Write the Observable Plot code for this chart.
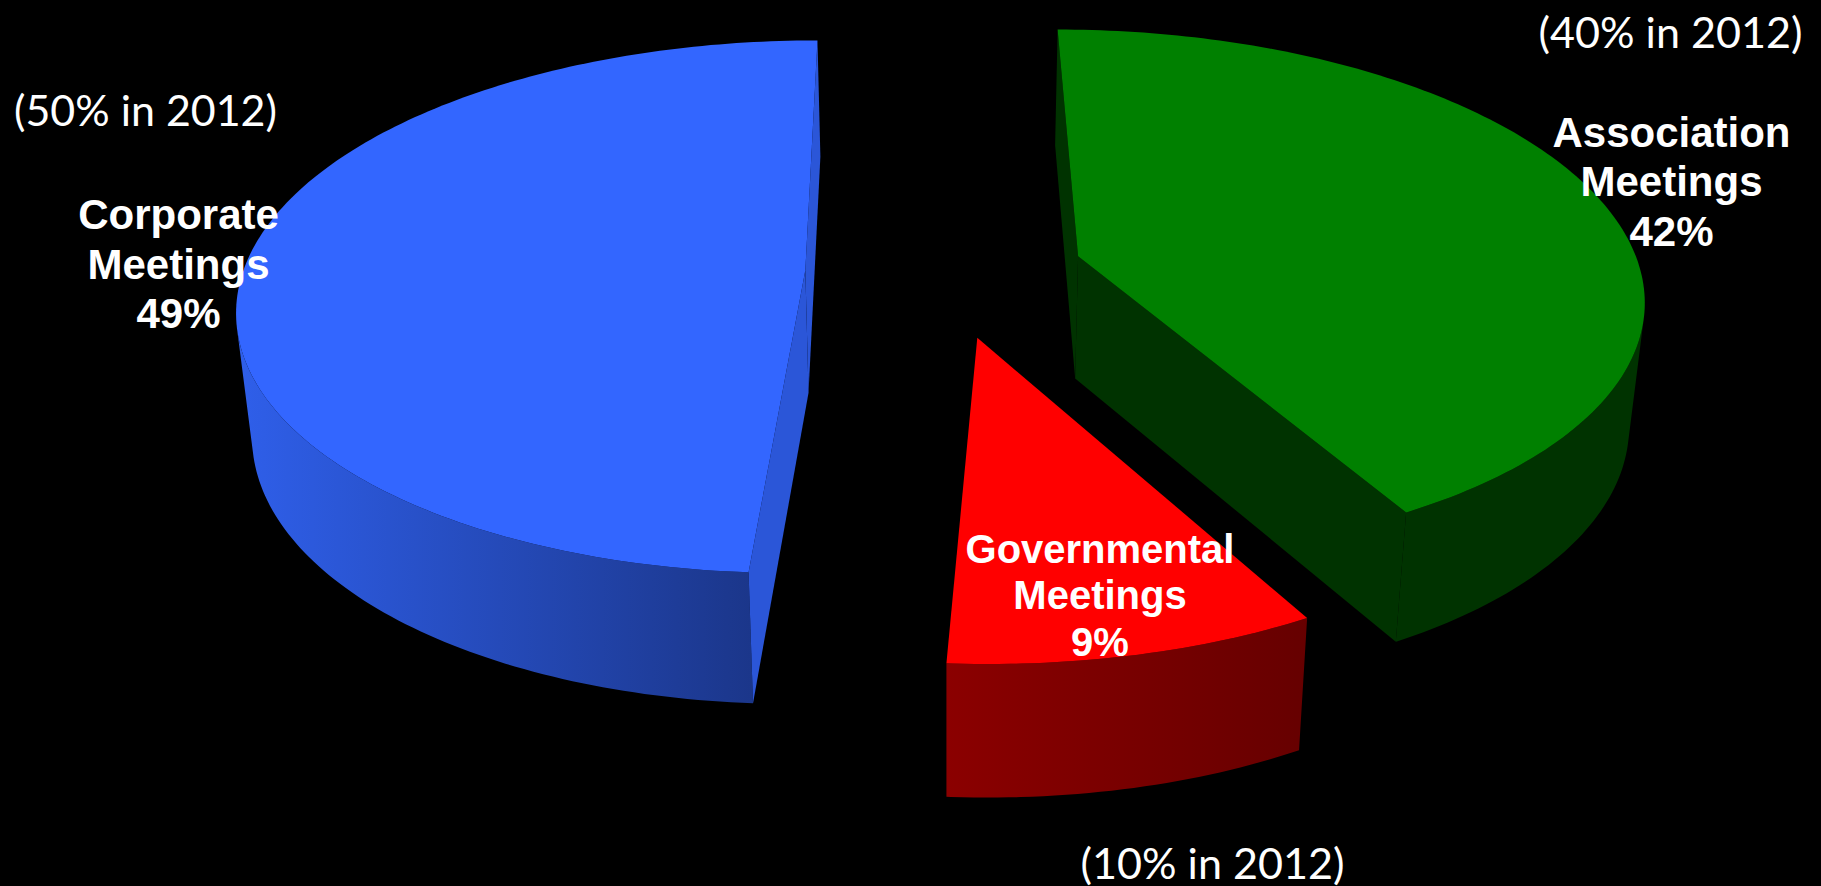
<!DOCTYPE html>
<html>
<head>
<meta charset="utf-8">
<script src="https://cdn.jsdelivr.net/npm/d3@7"></script>
<script src="https://cdn.jsdelivr.net/npm/@observablehq/plot@0.6"></script>
<style>
html,body{margin:0;padding:0;background:#000;overflow:hidden}
svg{display:block}
</style>
</head>
<body>
<div id="chart"></div>
<script>
// Chart data
const categories = ["Association Meetings", "Governmental Meetings", "Corporate Meetings"];
const shares2013 = [42, 9, 49];
const shares2012 = [40, 10, 50];

// Slice colours: top face, inner (radial) wall, outer wall left and right
const topColors = ["#008000", "#ff0000", "#3366ff"];
const innerColors = ["#003300", "#660000", "#2b56d8"];
const rimLeftColors = ["#003300", "#8b0000", "#2f5fea"];
const rimRightColors = ["#003300", "#660000", "#1b368a"];

// Text layout (pixels from the top-left of the frame)
const labelRows = [
  {t: "Corporate", px: 178, py: 228, bold: true, size: 42},
  {t: "Meetings", px: 178, py: 278, bold: true, size: 42},
  {t: "49%", px: 178, py: 327, bold: true, size: 42},
  {t: "Association", px: 1671, py: 146, bold: true, size: 42},
  {t: "Meetings", px: 1671, py: 195, bold: true, size: 42},
  {t: "42%", px: 1671, py: 245, bold: true, size: 42},
  {t: "Governmental", px: 1099.5, py: 562, bold: true, size: 40},
  {t: "Meetings", px: 1099.5, py: 608, bold: true, size: 40},
  {t: "9%", px: 1099.5, py: 655, bold: true, size: 40},
  {t: `(${shares2012[2]}% in 2012)`, px: 145, py: 125, fit: 263, size: 42},
  {t: `(${shares2012[0]}% in 2012)`, px: 1670, py: 47, fit: 264, size: 42},
  {t: `(${shares2012[1]}% in 2012)`, px: 1212, py: 878, fit: 264, size: 42}
];

// 3-D view of the exploded pie
const view = {vx: 780, vy: -1417, H: 1650, k: 0.1365, a: 484, cx: 0.0679, cy: 0.005, explode: 0.2478,
              dropX: 815, bottomScale: 0.9775, depth0: 100, depthSlope: 0.028, depthRef: 36};
const rad = d => d * Math.PI / 180;

function projectPlane(X, Y) {
  const w = 1 - view.k * Y;
  return [view.vx + view.a * X / w, view.vy + view.H / w];
}
function dropToBottom([sx, sy]) {
  return [view.dropX + (sx - view.dropX) * view.bottomScale,
          sy + view.depth0 + (sy - view.depthRef) * view.depthSlope];
}
function signedArea(pts) {
  let s = 0;
  pts.forEach((p, i) => { const q = pts[(i + 1) % pts.length]; s += p[0] * q[1] - q[0] * p[1]; });
  return s;
}

const total = d3.sum(shares2013);
const innerRows = [];
const rimRows = [];
const topRows = [];
const rimGradients = [];
let seg = 0;
let start = 0;
shares2013.forEach((v, i) => {
  const sweep = v / total * 360;
  const mid = start + sweep / 2;
  const ox = view.cx + view.explode * Math.sin(rad(mid));
  const oy = view.cy - view.explode * Math.cos(rad(mid));
  const rim = d3.range(0, Math.ceil(sweep) + 1).map(s => {
    const th = rad(start + Math.min(s, sweep));
    return projectPlane(ox + Math.sin(th), oy - Math.cos(th));
  });
  const apex = projectPlane(ox, oy);

  const visible = (p, q) => signedArea([p, q, dropToBottom(q), dropToBottom(p)]) < 0;
  const addInner = (p, q) => {
    if (visible(p, q)) {
      seg++;
      [p, q, dropToBottom(q), dropToBottom(p)].forEach(c =>
        innerRows.push({seg, x: c[0], y: c[1], color: innerColors[i]}));
    }
  };
  addInner(apex, rim[0]);
  addInner(rim[rim.length - 1], apex);

  // the part of the outer wall that faces the viewer, as one gradient-filled shape
  const chain = [];
  for (let j = 0; j < rim.length - 1; j++) {
    if (visible(rim[j], rim[j + 1])) {
      if (!chain.length) chain.push(rim[j]);
      chain.push(rim[j + 1]);
    }
  }
  if (chain.length) {
    const id = `rim-${i}`;
    rimGradients.push({id, left: rimLeftColors[i], right: rimRightColors[i]});
    [...chain, ...chain.slice().reverse().map(dropToBottom)].forEach(c =>
      rimRows.push({slice: categories[i], x: c[0], y: c[1], color: `url(#${id})`}));
  }
  [apex, ...rim].forEach(c => topRows.push({slice: categories[i], x: c[0], y: c[1], color: topColors[i]}));
  start += sweep;
});

function gradientDefs() {
  const ns = "http://www.w3.org/2000/svg";
  const defs = document.createElementNS(ns, "defs");
  rimGradients.forEach(g => {
    const lg = document.createElementNS(ns, "linearGradient");
    lg.setAttribute("id", g.id);
    [[0, g.left], [1, g.right]].forEach(([o, c]) => {
      const s = document.createElementNS(ns, "stop");
      s.setAttribute("offset", o);
      s.setAttribute("stop-color", c);
      lg.append(s);
    });
    defs.append(lg);
  });
  return defs;
}

const textMarks = labelRows.map((r, i) => Plot.text([r.t], {
  text: d => d,
  frameAnchor: "top-left",
  dx: r.px,
  dy: r.py,
  textAnchor: "middle",
  lineAnchor: "bottom",
  fill: "#fff",
  fontFamily: r.bold ? "Liberation Sans, Arial, sans-serif" : "Lato, Carlito, sans-serif",
  fontWeight: r.bold ? 700 : 400,
  fontSize: r.size,
  className: "lbl" + i
}));

const chart = Plot.plot({
  width: 1821,
  height: 886,
  margin: 0,
  style: {background: "#000"},
  x: {domain: [0, 1568], range: [0, 1821], axis: null},
  y: {domain: [0, 763], range: [0, 886], axis: null},
  marks: [
    gradientDefs,
    ...rimGradients.map(g => Plot.line(rimRows.filter(d => d.color === `url(#${g.id})`),
      {x: "x", y: "y", fill: `url(#${g.id})`, stroke: "none", curve: "linear-closed"})),
    ...d3.groups(innerRows, d => d.seg).map(([, rows]) =>
      Plot.line(rows, {x: "x", y: "y", fill: rows[0].color, stroke: "none", curve: "linear-closed"})),
    ...d3.groups(topRows, d => d.slice).map(([, rows]) =>
      Plot.line(rows, {x: "x", y: "y", fill: rows[0].color, stroke: "none", curve: "linear-closed"})),
    ...textMarks
  ]
});
document.getElementById("chart").append(chart);

labelRows.forEach((r, i) => {
  const el = chart.querySelector(`.lbl${i} text`);
  if (!el || !r.fit) return;
  el.setAttribute("textLength", r.fit);
  el.setAttribute("lengthAdjust", "spacingAndGlyphs");
  el.style.textAnchor = "start";
  el.setAttribute("x", -r.fit / 2);
});
</script>
</body>
</html>
